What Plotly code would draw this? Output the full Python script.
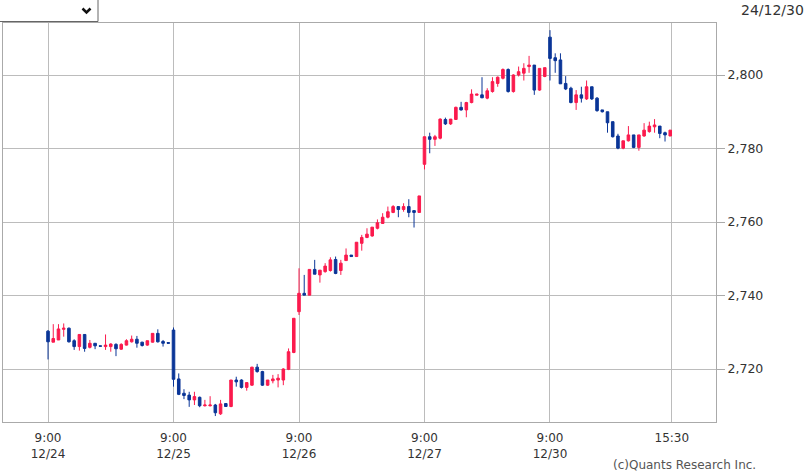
import plotly.graph_objects as go

# ---------------- data (15-min bars, 24 per session) ----------------
days = ["12/24", "12/25", "12/26", "12/27", "12/30"]
bars_per_day = 24

open_1224 = [2730.3, 2727.3, 2727.9, 2730.8, 2731.1, 2727.7, 2726.1, 2729.4, 2725.9, 2727.0, 2726.3, 2726.1,
             2726.1, 2726.7, 2725.4, 2726.5, 2727.4, 2728.1, 2727.3, 2726.5, 2727.3, 2729.7, 2727.5, 2727.2]
high_1224 = [2730.6, 2732.2, 2732.2, 2732.4, 2731.3, 2728.1, 2729.4, 2729.4, 2727.9, 2727.0, 2726.3, 2729.4,
             2727.0, 2727.0, 2727.0, 2728.1, 2729.1, 2729.0, 2727.4, 2727.7, 2729.7, 2730.8, 2727.9, 2727.2]
low_1224 = [2722.6, 2727.3, 2727.9, 2728.8, 2727.2, 2725.2, 2725.0, 2724.7, 2725.6, 2725.4, 2726.2, 2725.2,
            2724.7, 2723.5, 2725.2, 2726.4, 2727.2, 2725.8, 2726.1, 2726.3, 2727.2, 2727.2, 2726.1, 2727.0]
close_1224 = [2727.4, 2728.3, 2730.9, 2731.1, 2727.4, 2726.1, 2729.4, 2725.6, 2727.0, 2726.3, 2726.2, 2726.5,
              2726.8, 2725.5, 2726.7, 2727.7, 2728.1, 2727.0, 2726.4, 2727.7, 2729.7, 2727.4, 2727.0, 2727.0]

open_1225 = [2730.6, 2717.3, 2713.4, 2712.9, 2711.6, 2712.3, 2710.0, 2710.0, 2710.2, 2707.8, 2710.6, 2709.8,
             2717.0, 2717.0, 2715.0, 2715.6, 2720.5, 2719.3, 2715.6, 2716.8, 2717.0, 2717.0, 2719.9, 2724.5]
high_1225 = [2731.3, 2718.8, 2714.5, 2713.8, 2713.8, 2712.5, 2711.6, 2712.6, 2710.5, 2711.6, 2710.6, 2717.0,
             2717.9, 2717.2, 2716.3, 2720.6, 2721.4, 2719.5, 2717.0, 2718.4, 2718.6, 2720.2, 2725.6, 2733.8]
low_1225 = [2715.2, 2712.9, 2711.8, 2709.7, 2710.2, 2709.6, 2709.8, 2709.8, 2707.2, 2707.5, 2709.8, 2709.6,
            2715.2, 2714.7, 2714.1, 2715.4, 2719.0, 2715.4, 2715.4, 2716.1, 2715.0, 2715.6, 2719.7, 2724.3]
close_1225 = [2717.2, 2713.1, 2712.8, 2711.6, 2712.5, 2710.0, 2710.2, 2710.2, 2708.1, 2710.5, 2709.8, 2717.0,
              2716.5, 2715.0, 2716.3, 2720.5, 2719.3, 2715.6, 2717.0, 2717.3, 2717.5, 2720.0, 2724.7, 2733.8]

open_1226 = [2735.6, 2740.6, 2740.1, 2747.1, 2745.6, 2746.5, 2746.8, 2749.8, 2746.8, 2749.5, 2751.0, 2750.6,
             2754.2, 2755.8, 2756.2, 2758.3, 2759.6, 2761.3, 2762.6, 2764.2, 2763.4, 2764.2, 2763.1, 2762.6]
high_1226 = [2747.4, 2745.6, 2747.1, 2749.7, 2746.9, 2748.8, 2750.4, 2750.6, 2749.7, 2752.8, 2751.0, 2754.5,
             2756.5, 2758.3, 2758.6, 2760.7, 2762.4, 2764.2, 2764.6, 2764.2, 2765.1, 2766.2, 2763.1, 2767.1]
low_1226 = [2734.7, 2740.1, 2740.1, 2745.8, 2743.5, 2746.2, 2746.5, 2745.8, 2745.6, 2749.5, 2750.6, 2750.6,
            2752.2, 2755.6, 2756.0, 2758.0, 2759.5, 2761.0, 2762.4, 2761.3, 2762.8, 2761.3, 2758.5, 2762.6]
close_1226 = [2740.6, 2740.1, 2747.1, 2745.8, 2746.9, 2748.0, 2749.7, 2746.0, 2748.8, 2751.0, 2750.6, 2754.5,
              2755.8, 2756.7, 2758.6, 2759.8, 2761.3, 2762.8, 2764.2, 2763.4, 2764.2, 2762.6, 2762.6, 2767.1]

open_1227 = [2775.7, 2783.2, 2782.5, 2782.8, 2787.9, 2786.7, 2787.9, 2791.2, 2790.5, 2792.5, 2794.5, 2794.6,
             2793.7, 2795.5, 2797.7, 2799.1, 2801.5, 2795.5, 2800.0, 2800.5, 2802.3, 2802.7, 2795.9, 2799.6]
high_1227 = [2783.2, 2784.3, 2783.7, 2788.2, 2788.4, 2788.0, 2791.4, 2792.7, 2792.7, 2796.1, 2794.8, 2799.4,
             2796.4, 2799.4, 2799.6, 2801.8, 2801.8, 2800.2, 2802.3, 2803.2, 2805.2, 2802.7, 2801.8, 2802.0]
low_1227 = [2774.3, 2778.7, 2780.7, 2782.5, 2786.4, 2786.4, 2787.8, 2790.3, 2788.5, 2792.3, 2794.5, 2793.7,
            2793.4, 2795.2, 2796.8, 2798.8, 2795.2, 2795.2, 2799.6, 2798.5, 2800.6, 2794.6, 2795.7, 2799.4]
close_1227 = [2783.2, 2782.5, 2783.2, 2788.0, 2786.7, 2788.0, 2791.2, 2790.5, 2792.5, 2794.8, 2794.8, 2793.8,
              2795.7, 2798.2, 2799.4, 2801.5, 2795.5, 2800.0, 2800.9, 2801.8, 2802.7, 2795.9, 2801.8, 2802.0]

open_1230 = [2810.3, 2804.7, 2804.1, 2797.7, 2796.4, 2792.5, 2794.6, 2793.5, 2796.8, 2793.7, 2790.5, 2790.0,
             2787.3, 2783.4, 2780.1, 2782.1, 2783.7, 2780.3, 2783.4, 2784.6, 2785.9, 2786.1, 2784.3, 2783.4]
high_1230 = [2812.2, 2805.9, 2805.9, 2799.7, 2796.8, 2795.9, 2796.8, 2798.5, 2796.8, 2794.0, 2790.5, 2790.0,
             2787.3, 2784.0, 2782.1, 2786.1, 2783.7, 2783.7, 2786.9, 2787.3, 2788.0, 2786.1, 2784.6, 2785.0]
low_1230 = [2798.5, 2800.6, 2797.6, 2795.9, 2792.3, 2790.5, 2792.5, 2793.2, 2793.2, 2790.0, 2789.8, 2784.3,
            2783.0, 2779.8, 2779.8, 2781.9, 2780.1, 2779.4, 2783.2, 2784.3, 2784.3, 2782.8, 2781.9, 2783.4]
close_1230 = [2804.5, 2803.9, 2797.6, 2796.2, 2792.5, 2794.6, 2793.7, 2796.8, 2793.5, 2790.3, 2790.0, 2787.0,
              2783.2, 2780.1, 2782.1, 2783.7, 2780.3, 2783.7, 2785.0, 2786.1, 2786.4, 2784.1, 2783.7, 2785.0]

y_ticks = [2720, 2740, 2760, 2780, 2800]
x_tick_labels = ["9:00<br>12/24", "9:00<br>12/25", "9:00<br>12/26", "9:00<br>12/27", "9:00<br>12/30", "15:30"]
date_label = "24/12/30"
credit = "(c)Quants Research Inc."

# ---------------- assemble ----------------
opens = open_1224 + open_1225 + open_1226 + open_1227 + open_1230
highs = high_1224 + high_1225 + high_1226 + high_1227 + high_1230
lows = low_1224 + low_1225 + low_1226 + low_1227 + low_1230
closes = close_1224 + close_1225 + close_1226 + close_1227 + close_1230
xs = []
for d in range(len(days)):
    for s in range(bars_per_day):
        xs.append(d * bars_per_day + s)

RED = "#fb1a4d"
BLUE = "#0a3597"
GRID = "#bcbcbc"
TXT = "#333333"

W, H = 809, 473
L, R, T, B = 3, 716, 23, 422


def px_x(px):
    return (px - L) / (R - L)


def px_y(py):
    return (B - py) / (B - T)


fig = go.Figure()
fig.add_trace(go.Candlestick(
    x=xs, open=opens, high=highs, low=lows, close=closes,
    increasing=dict(line=dict(color=RED, width=1), fillcolor=RED),
    decreasing=dict(line=dict(color=BLUE, width=1), fillcolor=BLUE),
    whiskerwidth=0, showlegend=False, hoverinfo="skip",
))

day_ticks = [d * bars_per_day for d in range(len(days))] + [119.3]

fig.update_layout(
    width=W, height=H,
    margin=dict(l=L, r=W - R, t=T, b=H - B, pad=0),
    paper_bgcolor="white", plot_bgcolor="white",
    font=dict(family="DejaVu Sans", size=12.5, color=TXT),
    xaxis=dict(
        range=[-8.61, 127.75], rangeslider=dict(visible=False),
        tickmode="array", tickvals=day_ticks, ticktext=x_tick_labels,
        tickfont=dict(size=12), ticklabelstandoff=5,
        showgrid=True, gridcolor=GRID, gridwidth=1.2,
        showline=True, linecolor="#aaaaaa", linewidth=1, mirror=True,
        ticks="", zeroline=False, fixedrange=True,
    ),
    yaxis=dict(
        range=[2705.58, 2814.15], side="right",
        tickmode="array", tickvals=y_ticks, tickformat=",d",
        showgrid=True, gridcolor=GRID, gridwidth=1.2,
        showline=True, linecolor="#aaaaaa", linewidth=1, mirror=True,
        ticks="outside", ticklen=8, tickcolor="#aaaaaa", tickwidth=1,
        zeroline=False,
    ),
    shapes=[
        dict(type="rect", xref="paper", yref="paper",
             x0=px_x(-2), x1=px_x(98), y0=px_y(21.5), y1=px_y(-2),
             line=dict(color="#666666", width=1), fillcolor="white", layer="above"),
        dict(type="path", xref="paper", yref="paper",
             path="M {} {} L {} {} L {} {}".format(px_x(82.5), px_y(8.5), px_x(86.5), px_y(12.5),
                                                   px_x(90.5), px_y(8.5)),
             line=dict(color="#111111", width=2.5), layer="above"),
    ],
    annotations=[
        dict(text=date_label, xref="paper", yref="paper", x=px_x(806), y=px_y(9.5),
             xanchor="right", yanchor="middle", showarrow=False,
             font=dict(size=14, color=TXT, family="DejaVu Sans")),
        dict(text=credit, xref="paper", yref="paper", x=px_x(611), y=px_y(465),
             xanchor="left", yanchor="middle", showarrow=False,
             font=dict(size=12, color="#555555", family="DejaVu Sans")),
    ],
)

fig.write_html("out.html", config={"displayModeBar": False},
               post_script="document.body.style.margin='0px';document.body.style.overflow='hidden';")
